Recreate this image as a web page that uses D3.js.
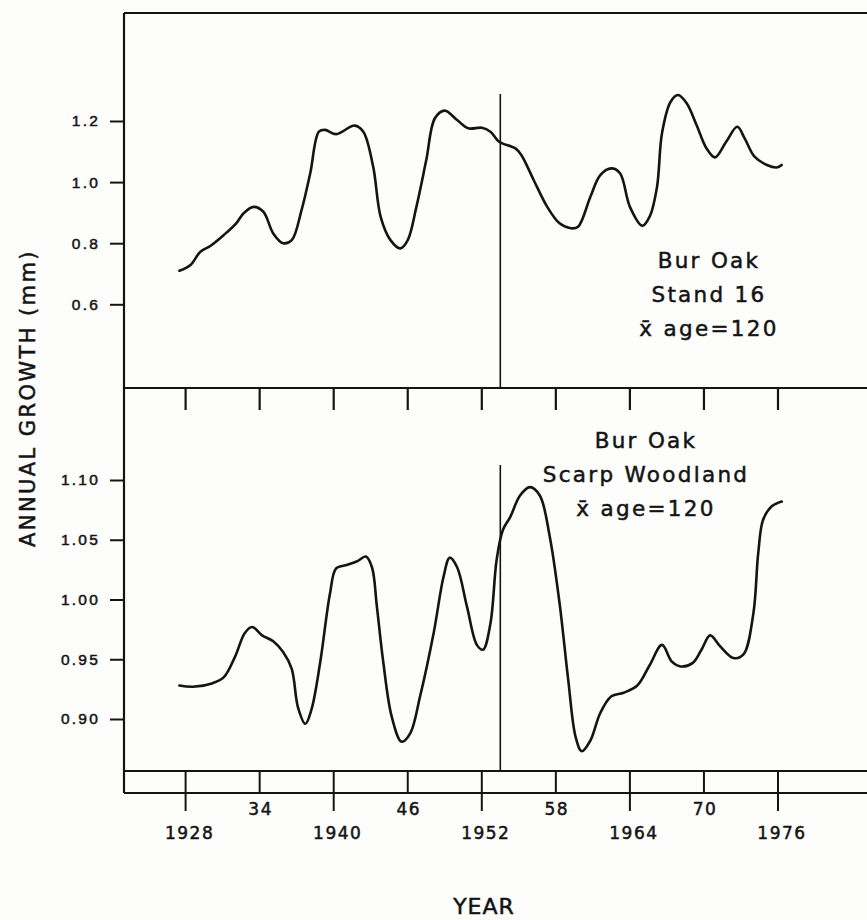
<!DOCTYPE html>
<html>
<head>
<meta charset="utf-8">
<script src="https://cdn.jsdelivr.net/npm/d3@7"></script>
<style>
  html, body { margin: 0; padding: 0; background: #fdfdfc; }
  svg { display: block; font-family: 'DejaVu Sans', sans-serif; }
</style>
</head>
<body>
<div id="chart"></div>
<script>
// bur oak, stand 16 (upper panel)
const standYears = [1927.5, 1928.4, 1929.2, 1930.0, 1931.1, 1932.1, 1932.7, 1933.5, 1934.3, 1935.1,
  1935.9, 1936.6, 1937.4, 1938.1, 1938.8, 1939.3, 1940.2, 1941.7, 1942.4, 1943.2,
  1943.8, 1944.6, 1945.4, 1946.0, 1946.7, 1947.5, 1948.2, 1949.0, 1950.0, 1950.9,
  1952.0, 1952.7, 1953.4, 1954.7, 1955.2, 1956.2, 1957.3, 1958.3, 1959.2, 1959.8,
  1960.8, 1961.6, 1962.5, 1963.2, 1964.0, 1965.0, 1965.6, 1966.2, 1966.6, 1967.3,
  1967.9, 1968.6, 1969.4, 1970.2, 1970.9, 1971.8, 1972.7, 1973.3, 1974.1, 1975.1,
  1975.9, 1976.3]
const standGrowth = [0.710, 0.729, 0.772, 0.791, 0.827, 0.865, 0.898, 0.919, 0.903, 0.832,
  0.800, 0.810, 0.909, 1.029, 1.165, 1.171, 1.157, 1.185, 1.165, 1.050,
  0.887, 0.810, 0.783, 0.810, 0.919, 1.072, 1.209, 1.234, 1.203, 1.176,
  1.178, 1.165, 1.132, 1.111, 1.089, 1.007, 0.919, 0.865, 0.849, 0.854,
  0.952, 1.023, 1.045, 1.029, 0.919, 0.857, 0.887, 0.985, 1.160, 1.263,
  1.285, 1.258, 1.187, 1.111, 1.081, 1.132, 1.181, 1.143, 1.083, 1.056,
  1.048, 1.056]

// bur oak, scarp woodland (lower panel)
const scarpYears = [1927.5, 1928.6, 1930.2, 1931.1, 1932.0, 1932.8, 1933.4, 1934.2, 1935.1, 1935.9,
  1936.6, 1937.1, 1937.7, 1938.2, 1938.9, 1939.7, 1940.2, 1941.1, 1941.9, 1942.6,
  1943.1, 1943.5, 1944.0, 1944.7, 1945.5, 1946.2, 1947.0, 1948.1, 1948.9, 1949.4,
  1950.0, 1950.8, 1951.6, 1952.1, 1952.7, 1953.2, 1953.7, 1954.3, 1955.1, 1955.9,
  1956.7, 1957.5, 1958.3, 1959.0, 1959.6, 1960.1, 1960.8, 1961.6, 1962.5, 1963.5,
  1964.6, 1965.6, 1966.6, 1967.4, 1968.1, 1969.1, 1969.8, 1970.5, 1971.3, 1972.4,
  1973.2, 1974.0, 1974.4, 1974.8, 1975.5, 1976.3]
const scarpGrowth = [0.928, 0.927, 0.930, 0.935, 0.952, 0.972, 0.977, 0.970, 0.965, 0.956,
  0.942, 0.910, 0.896, 0.908, 0.947, 1.005, 1.026, 1.029, 1.032, 1.036,
  1.027, 0.994, 0.949, 0.902, 0.881, 0.888, 0.919, 0.972, 1.019, 1.035,
  1.027, 0.994, 0.962, 0.958, 0.980, 1.033, 1.058, 1.069, 1.087, 1.094,
  1.087, 1.053, 0.997, 0.933, 0.885, 0.873, 0.882, 0.905, 0.919, 0.922,
  0.928, 0.945, 0.962, 0.948, 0.944, 0.947, 0.958, 0.970, 0.961, 0.951,
  0.954, 0.988, 1.039, 1.067, 1.078, 1.082]

const tickYears = [1928, 1934, 1940, 1946, 1952, 1958, 1964, 1970, 1976]
const tickLabels = ['1928', '34', '1940', '46', '1952', '58', '1964', '70', '1976']
const topTicks = [0.6, 0.8, 1.0, 1.2]
const bottomTicks = [0.90, 0.95, 1.00, 1.05, 1.10]
const markerYear = 1953.5

const standLabel = ['Bur Oak', 'Stand 16', 'x\u0304 age=120']
const scarpLabel = ['Bur Oak', 'Scarp Woodland', 'x\u0304 age=120']

const width = 867
const height = 920
const left = 124
const right = 867
const frameTop = 13
const divider = 388
const lowerBottom = 771
const stripBottom = 793

const ink = '#141414'

const svg = d3.select('#chart')
  .append('svg')
  .attr('width', width)
  .attr('height', height)
  .attr('viewBox', [0, 0, width, height])

const x = d3.scaleLinear().domain([1928, 1976]).range([185.6, 778])
const yTop = d3.scaleLinear().domain([0.6, 1.2]).range([304.3, 121])
const yBot = d3.scaleLinear().domain([0.90, 1.10]).range([719, 480])

// lettering is heavier than a plain font, thicken it a little
const letter = (sel, size, spacing) => sel
  .attr('fill', ink)
  .attr('stroke', ink)
  .attr('stroke-width', 0.5)
  .style('font-size', size + 'px')
  .style('letter-spacing', spacing + 'px')

// frame
const hLines = [frameTop, divider, lowerBottom, stripBottom]
svg.selectAll('.hline')
  .data(hLines)
  .enter()
  .append('line')
  .attr('x1', left).attr('x2', right)
  .attr('y1', d => d).attr('y2', d => d)
  .attr('stroke', ink)
  .attr('stroke-width', 2.2)

svg.append('line')
  .attr('x1', left).attr('x2', left)
  .attr('y1', frameTop).attr('y2', stripBottom)
  .attr('stroke', ink)
  .attr('stroke-width', 2.2)

// y axes
const styleAxis = g => {
  g.select('.domain').remove()
  g.selectAll('.tick line').attr('stroke', ink).attr('stroke-width', 2)
  g.selectAll('.tick text').call(letter, 15.5, 2.2)
}

svg.append('g')
  .attr('transform', `translate(${left},0)`)
  .call(d3.axisLeft(yTop).tickValues(topTicks).tickSize(14).tickPadding(10).tickFormat(d3.format('.1f')))
  .call(styleAxis)

svg.append('g')
  .attr('transform', `translate(${left},0)`)
  .call(d3.axisLeft(yBot).tickValues(bottomTicks).tickSize(14).tickPadding(10).tickFormat(d3.format('.2f')))
  .call(styleAxis)

// ticks hanging under the upper panel
svg.selectAll('.hang')
  .data(tickYears)
  .enter()
  .append('line')
  .attr('x1', d => x(d)).attr('x2', d => x(d))
  .attr('y1', divider).attr('y2', divider + 22)
  .attr('stroke', ink)
  .attr('stroke-width', 2.2)

// ticks in the bottom strip, full years run below it
svg.selectAll('.strip')
  .data(tickYears)
  .enter()
  .append('line')
  .attr('x1', d => x(d)).attr('x2', d => x(d))
  .attr('y1', lowerBottom)
  .attr('y2', (d, i) => tickLabels[i].length > 2 ? stripBottom + 18 : stripBottom)
  .attr('stroke', ink)
  .attr('stroke-width', 2)

svg.selectAll('.xlab')
  .data(tickYears)
  .enter()
  .append('text')
  .attr('x', (d, i) => x(d) + (tickLabels[i].length > 2 ? 4 : 1))
  .attr('y', (d, i) => tickLabels[i].length > 2 ? 839 : 815)
  .attr('text-anchor', 'middle')
  .call(letter, 17, 1.5)
  .text((d, i) => tickLabels[i])

// marker lines
svg.append('line')
  .attr('x1', x(markerYear)).attr('x2', x(markerYear))
  .attr('y1', 94).attr('y2', divider)
  .attr('stroke', ink).attr('stroke-width', 1.6)

svg.append('line')
  .attr('x1', x(markerYear)).attr('x2', x(markerYear))
  .attr('y1', 465).attr('y2', lowerBottom)
  .attr('stroke', ink).attr('stroke-width', 1.6)

// curves
const standData = standYears.map((yr, i) => ({ year: yr, value: standGrowth[i] }))
const scarpData = scarpYears.map((yr, i) => ({ year: yr, value: scarpGrowth[i] }))

const topLine = d3.line()
  .x(d => x(d.year))
  .y(d => yTop(d.value))
  .curve(d3.curveCatmullRom.alpha(0.5))

const botLine = d3.line()
  .x(d => x(d.year))
  .y(d => yBot(d.value))
  .curve(d3.curveCatmullRom.alpha(0.5))

svg.append('path')
  .datum(standData)
  .attr('d', topLine)
  .attr('fill', 'none')
  .attr('stroke', ink)
  .attr('stroke-width', 2.6)
  .attr('stroke-linejoin', 'round')
  .attr('stroke-linecap', 'round')

svg.append('path')
  .datum(scarpData)
  .attr('d', botLine)
  .attr('fill', 'none')
  .attr('stroke', ink)
  .attr('stroke-width', 2.6)
  .attr('stroke-linejoin', 'round')
  .attr('stroke-linecap', 'round')

// panel notes
const note = (lines, cx, y0) => {
  svg.selectAll(null)
    .data(lines)
    .enter()
    .append('text')
    .attr('x', cx)
    .attr('y', (d, i) => y0 + i * 34)
    .attr('text-anchor', 'middle')
    .call(letter, 21.5, 2.3)
    .text(d => d)
}
note(standLabel, 709, 268)
note(scarpLabel, 646, 448)

// axis titles
svg.append('text')
  .attr('transform', 'translate(35,398) rotate(-90)')
  .attr('text-anchor', 'middle')
  .call(letter, 21, 2.4)
  .text('ANNUAL GROWTH (mm)')

svg.append('text')
  .attr('x', 484)
  .attr('y', 914)
  .attr('text-anchor', 'middle')
  .call(letter, 22, 1)
  .text('YEAR')
</script>
</body>
</html>
